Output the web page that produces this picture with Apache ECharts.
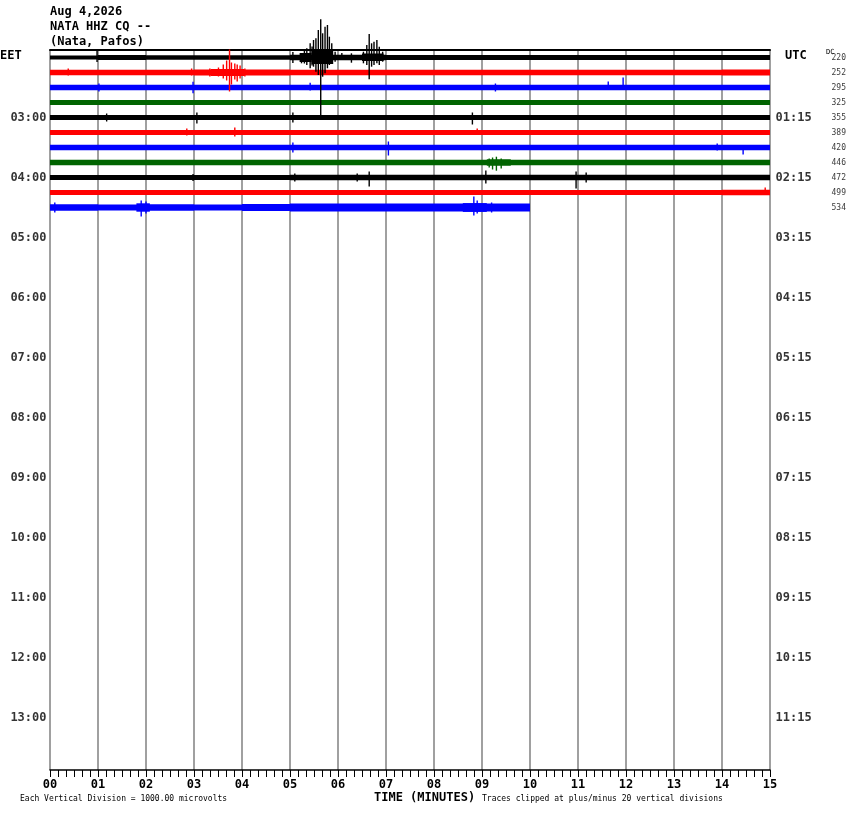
<!DOCTYPE html>
<html>
<head>
<meta charset="utf-8">
<script src="https://cdn.jsdelivr.net/npm/echarts@6/dist/echarts.min.js"></script>
<style>
  html, body { margin: 0; padding: 0; background: #fff; }
  #main { width: 850px; height: 814px; }
</style>
</head>
<body>
<div id="main"></div>
<script>
// header / labels
var headerLines = ['Aug 4,2026', 'NATA HHZ CQ --', '(Nata, Pafos)'];
var minuteLabels = ['00','01','02','03','04','05','06','07','08','09','10','11','12','13','14','15'];
var eetHours = ['03:00','04:00','05:00','06:00','07:00','08:00','09:00','10:00','11:00','12:00','13:00'];
var utcHours = ['01:15','02:15','03:15','04:15','05:15','06:15','07:15','08:15','09:15','10:15','11:15'];
var dcOffsets = [220, 252, 295, 325, 355, 389, 420, 446, 472, 499, 534];
var traceColors = ['#000000', '#ff0000', '#0000ff', '#006400'];

// 48 lines of 15 minutes, 15 amplitude units between lines
var ROWS = 48;
var ROW_UNITS = 15;

// background noise half-height of each trace, one value per minute
var noise0  = [2.1, 2.5, 2.3, 2.3, 2.3, 2.7, 2.7, 2.6, 2.5, 2.5, 2.5, 2.5, 2.5, 2.5, 2.6];
var noise1  = [2.8, 2.8, 2.8, 3.0, 3.0, 2.8, 2.8, 2.8, 2.8, 2.8, 2.8, 2.8, 2.8, 2.8, 2.9];
var noise2  = [2.7, 2.7, 2.7, 2.7, 2.7, 2.7, 2.7, 2.7, 2.7, 2.7, 2.7, 2.7, 2.7, 2.7, 2.7];
var noise3  = [2.6, 2.6, 2.6, 2.6, 2.6, 2.6, 2.6, 2.6, 2.6, 2.6, 2.6, 2.6, 2.6, 2.6, 2.6];
var noise4  = [2.6, 2.6, 2.6, 2.6, 2.6, 2.6, 2.6, 2.6, 2.6, 2.6, 2.6, 2.6, 2.6, 2.6, 2.6];
var noise5  = [2.6, 2.6, 2.6, 2.6, 2.6, 2.6, 2.6, 2.6, 2.6, 2.6, 2.6, 2.6, 2.6, 2.6, 2.6];
var noise6  = [2.7, 2.7, 2.7, 2.7, 2.7, 2.7, 2.7, 2.7, 2.7, 2.7, 2.7, 2.7, 2.7, 2.7, 2.7];
var noise7  = [2.7, 2.7, 2.7, 2.7, 2.7, 2.7, 2.7, 2.7, 2.7, 2.7, 2.7, 2.7, 2.7, 2.8, 2.7];
var noise8  = [2.6, 2.6, 2.6, 2.6, 2.6, 2.7, 2.8, 2.8, 2.8, 2.8, 2.8, 2.8, 2.7, 2.7, 2.7];
var noise9  = [2.6, 2.6, 2.6, 2.6, 2.6, 2.6, 2.6, 2.6, 2.6, 2.6, 2.6, 2.6, 2.6, 2.6, 2.7];
var noise10 = [3.2, 3.0, 3.2, 3.0, 3.6, 4.0, 4.0, 4.0, 4.1, 4.1];

// dense wiggle windows: [start min, end min, up, down]
var bursts0  = [[5.2, 5.45, 4.5, 4.5], [5.45, 5.9, 7, 6.5], [6.5, 6.95, 4, 3.5]];
var bursts1  = [[3.35, 4.05, 3.4, 3.4]];
var bursts7  = [[9.1, 9.6, 3.2, 3.2]];
var bursts10 = [[1.8, 2.08, 4.2, 4.2], [8.6, 9.1, 4.4, 4.4]];

// single spikes: [minute, up, down]
var spikes0 = [[0.98, 7, 4.5], [5.06, 5.5, 5.5], [5.24, 4.2, 5.8], [5.3, 8, 6], [5.35, 9.2, 7.5], [5.42, 14.2, 10.8],
  [5.46, 11, 8], [5.49, 17.5, 9.2], [5.54, 19.2, 14.2], [5.59, 27.5, 17.5], [5.64, 38.2, 57.5], [5.68, 24.2, 19.2],
  [5.73, 30.8, 15.8], [5.78, 32.5, 10.8], [5.82, 20.8, 7.5], [5.87, 14.2, 5.8], [5.94, 5.8, 4.2],
  [6.08, 4.5, 2.5], [6.28, 4.2, 5.2], [6.53, 5.8, 5.8], [6.6, 12.5, 7.5], [6.65, 23.5, 21.8],
  [6.7, 14.2, 9.2], [6.75, 15.8, 7.5], [6.81, 17.5, 5.8], [6.86, 10.8, 7.5], [6.93, 5.8, 4.2]];
var spikes1 = [[0.38, 4, 3], [2.95, 4, 3], [3.33, 4, 4], [3.51, 5, 4], [3.61, 8, 6], [3.68, 12, 8],
  [3.74, 23, 19], [3.78, 10, 12], [3.85, 9, 7], [3.9, 8, 9], [3.96, 7, 6], [4.06, 4, 4]];
var spikes2 = [[1.02, 4, 4], [2.98, 5.8, 5.8], [5.42, 4.8, 3], [9.28, 4, 4], [11.63, 6, 2], [11.94, 10, 2]];
var spikes4 = [[1.18, 4, 4], [3.06, 5, 6], [5.06, 5, 5], [8.8, 5, 7]];
var spikes5 = [[2.85, 4, 3], [3.85, 5, 4], [8.9, 4, 2]];
var spikes6 = [[5.06, 5, 5], [7.05, 6, 8], [13.9, 4, 3], [14.44, 2, 7]];
var spikes7 = [[9.15, 4, 5], [9.22, 5, 7], [9.3, 5.8, 8.2], [9.4, 4, 6]];
var spikes8 = [[2.98, 3.5, 3.5], [5.1, 4, 4], [6.4, 4, 4], [6.65, 6, 9], [9.08, 7, 6], [10.96, 6, 11], [11.17, 5, 5]];
var spikes9 = [[14.9, 5, 2]];
var spikes10 = [[0.1, 5, 5], [1.9, 7, 9], [2.0, 6, 6], [8.83, 11, 8], [8.9, 7, 6], [9.2, 5, 5]];

var noiseRows  = [noise0, noise1, noise2, noise3, noise4, noise5, noise6, noise7, noise8, noise9, noise10];
var burstRows  = [bursts0, bursts1, [], [], [], [], [], bursts7, [], [], bursts10];
var spikeRows  = [spikes0, spikes1, spikes2, [], spikes4, spikes5, spikes6, spikes7, spikes8, spikes9, spikes10];

function baseOf(row) { return ROW_UNITS * row + ROW_UNITS / 2; }

// items: [row, t0, t1, up, down]; t0 == t1 draws a spike line
var traceItems = [];
noiseRows.forEach(function (arr, r) {
  arr.forEach(function (a, m) { traceItems.push([r, m, m + 1, a, a]); });
});
burstRows.forEach(function (arr, r) {
  arr.forEach(function (b) { traceItems.push([r, b[0], b[1], b[2], b[3]]); });
});
spikeRows.forEach(function (arr, r) {
  arr.forEach(function (s) { traceItems.push([r, s[0], s[0], s[1], s[2]]); });
});

function renderTrace(params, api) {
  var r = api.value(0), t0 = api.value(1), t1 = api.value(2);
  var up = api.value(3), dn = api.value(4);
  var b = baseOf(r);
  var p0 = api.coord([t0, b - up]);
  var p1 = api.coord([t1, b + dn]);
  var color = traceColors[r % 4];
  if (t1 > t0) {
    return { type: 'rect', shape: { x: p0[0], y: p0[1], width: p1[0] - p0[0], height: p1[1] - p0[1] },
      style: { fill: color } };
  }
  return { type: 'line', shape: { x1: p0[0], y1: p0[1], x2: p0[0], y2: p1[1] },
    style: { stroke: color, lineWidth: 1.4 } };
}

var mono = 'DejaVu Sans Mono';
var eetData = eetHours.map(function (t, i) { return [0, baseOf(4 * (i + 1))]; });
var utcData = utcHours.map(function (t, i) { return [15, baseOf(4 * (i + 1))]; });
var dcData = dcOffsets.map(function (d, i) { return [15, baseOf(i)]; });

function labelSeries(data, texts, position, distance, fontSize, bold) {
  return {
    type: 'scatter', data: data, symbolSize: 1, silent: true,
    itemStyle: { color: 'rgba(0,0,0,0)' },
    label: {
      show: true, position: position, distance: distance, color: '#000',
      fontFamily: mono, fontWeight: bold ? 'bold' : 'normal', fontSize: fontSize,
      formatter: function (p) { return String(texts[p.dataIndex]); }
    },
    labelLayout: { hideOverlap: false }
  };
}

var myChart = echarts.init(document.getElementById('main'));

var option = {
  animation: false,
  backgroundColor: '#fff',
  grid: { left: 50, top: 50, width: 720, height: 720 },
  xAxis: [{
    type: 'value', min: 0, max: 15, interval: 1, position: 'bottom',
    axisLine: { show: true, onZero: false, lineStyle: { color: '#000', width: 1.5 } },
    axisTick: { show: true, length: 7, lineStyle: { color: '#000', width: 1 } },
    minorTick: { show: true, splitNumber: 6, length: 7, lineStyle: { color: '#000', width: 1 } },
    axisLabel: {
      margin: 9, color: '#000', fontFamily: mono, fontWeight: 'bold', fontSize: 12,
      formatter: function (v) { return minuteLabels[v]; }
    },
    splitLine: { show: true, lineStyle: { color: '#808080', width: 1.5 } }
  }, {
    type: 'value', min: 0, max: 15, position: 'top',
    axisLine: { show: true, onZero: false, lineStyle: { color: '#000', width: 2 } },
    axisTick: { show: false }, axisLabel: { show: false }, splitLine: { show: false }
  }],
  yAxis: { type: 'value', min: 0, max: ROWS * ROW_UNITS, inverse: true, show: false },
  series: [{
    type: 'custom',
    renderItem: renderTrace,
    data: traceItems,
    clip: false,
    silent: true
  },
    labelSeries(eetData, eetHours, 'left', 3, 12, true),
    labelSeries(utcData, utcHours, 'right', 5, 12, true),
    labelSeries(dcData, dcOffsets, 'right', 61, 8, false)
  ],
  graphic: [
    { type: 'text', left: 50, top: 4, style: { text: headerLines.join('\n'), font: 'bold 12px ' + mono, lineHeight: 15, fill: '#000' } },
    { type: 'text', left: 0, top: 50, style: { text: 'EET', font: 'bold 12px ' + mono, fill: '#000' } },
    { type: 'text', left: 785, top: 50, style: { text: 'UTC', font: 'bold 12px ' + mono, fill: '#000' } },
    { type: 'text', left: 826, top: 49, style: { text: 'DC', font: '7px ' + mono, fill: '#000' } },
    { type: 'text', left: 374, top: 792, style: { text: 'TIME (MINUTES)', font: 'bold 12px ' + mono, fill: '#000' } },
    { type: 'text', left: 20, top: 795, style: { text: 'Each Vertical Division = 1000.00 microvolts', font: '8px ' + mono, fill: '#000' } },
    { type: 'text', left: 482, top: 795, style: { text: 'Traces clipped at plus/minus 20 vertical divisions', font: '8px ' + mono, fill: '#000' } }
  ]
};

myChart.setOption(option);
</script>
</body>
</html>
